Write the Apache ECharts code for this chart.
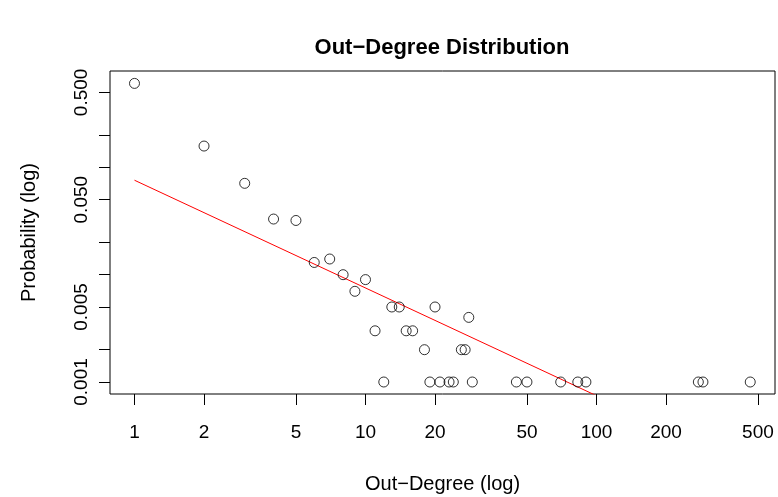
<!DOCTYPE html>
<html>
<head>
<meta charset="utf-8">
<title>Out−Degree Distribution</title>
<script src="https://cdn.jsdelivr.net/npm/echarts@6/dist/echarts.min.js"></script>
<style>
  html, body { margin: 0; padding: 0; background: #fff; }
  #chart { width: 778px; height: 497px; }
</style>
</head>
<body>
<div id="chart"></div>
<script>
// Out-degree values that occur, and the share of nodes with each one
const outDegree = [1, 2, 3, 4, 5, 6, 7, 8, 9, 10, 11, 12, 13, 14, 15, 16,
                   18, 19, 20, 21, 23, 24, 26, 27, 28, 29,
                   45, 50, 70, 83, 90, 276, 289, 463];
const probability = [0.606, 0.158, 0.071, 0.033, 0.032, 0.013, 0.014, 0.010, 0.007, 0.009,
                     0.003, 0.001, 0.005, 0.005, 0.003, 0.003,
                     0.002, 0.001, 0.005, 0.001, 0.001, 0.001, 0.002, 0.002, 0.004, 0.001,
                     0.001, 0.001, 0.001, 0.001, 0.001, 0.001, 0.001, 0.001];

// Power-law fit, given by its two end points
const fitDegree = [1, 463];
const fitProbability = [0.0759, 0.00016];

// Tick positions and labelled ticks
const xTicks = [1, 2, 5, 10, 20, 50, 100, 200, 500];
const yTicks = [0.001, 0.002, 0.005, 0.01, 0.02, 0.05, 0.1, 0.2, 0.5];
const yLabels = [0.001, 0.005, 0.05, 0.5];

const FONT = 'Liberation Sans, Arial, Helvetica, sans-serif';

const points = outDegree.map((d, i) => [d, probability[i]]);
const fitLine = fitDegree.map((d, i) => [d, fitProbability[i]]);

const chart = echarts.init(document.getElementById('chart'), null, { renderer: 'canvas' });

chart.setOption({
  animation: false,
  backgroundColor: '#ffffff',
  title: {
    text: 'Out\u2212Degree Distribution',
    left: 442,
    top: 37,
    textAlign: 'center',
    padding: 0,
    textStyle: { fontFamily: FONT, fontSize: 22, fontWeight: 'bold', color: '#000' }
  },
  grid: {
    left: 110, right: 3, top: 71, bottom: 103,
    show: true,
    borderColor: '#000',
    borderWidth: 1,
    backgroundColor: 'transparent',
    containLabel: false,
    outerBoundsMode: 'none'
  },
  xAxis: {
    type: 'log',
    logBase: 10,
    min: 0.7834,
    max: 592.6,
    name: 'Out\u2212Degree (log)',
    nameLocation: 'middle',
    nameGap: 80,
    nameTextStyle: { fontFamily: FONT, fontSize: 20, color: '#000' },
    axisLine: { show: false },
    splitLine: { show: false },
    minorTick: { show: false },
    axisTick: {
      show: true, inside: false, length: 11,
      lineStyle: { color: '#000', width: 1 },
      customValues: xTicks
    },
    axisLabel: {
      show: true, margin: 29,
      fontFamily: FONT, fontSize: 19, color: '#000',
      customValues: xTicks,
      formatter: v => String(Math.round(v))
    }
  },
  yAxis: {
    type: 'log',
    logBase: 10,
    min: 0.000773,
    max: 0.7907,
    name: 'Probability (log)',
    nameLocation: 'middle',
    nameGap: 71,
    nameTextStyle: { fontFamily: FONT, fontSize: 20, color: '#000' },
    axisLine: { show: false },
    splitLine: { show: false },
    minorTick: { show: false },
    axisTick: {
      show: true, inside: false, length: 11,
      lineStyle: { color: '#000', width: 1 },
      customValues: yTicks
    },
    axisLabel: {
      show: true, margin: 19, rotate: 90,
      fontFamily: FONT, fontSize: 19, color: '#000',
      customValues: yLabels,
      formatter: v => v.toFixed(3)
    }
  },
  series: [
    {
      name: 'Observed',
      type: 'scatter',
      data: points,
      symbol: 'circle',
      symbolSize: 10,
      itemStyle: { color: 'rgba(0,0,0,0)', borderColor: '#000', borderWidth: 1 },
      z: 3
    },
    {
      name: 'Fit',
      type: 'line',
      data: fitLine,
      showSymbol: false,
      symbol: 'none',
      clip: true,
      lineStyle: { color: '#ff0000', width: 1 },
      z: 2
    }
  ]
});
</script>
</body>
</html>
